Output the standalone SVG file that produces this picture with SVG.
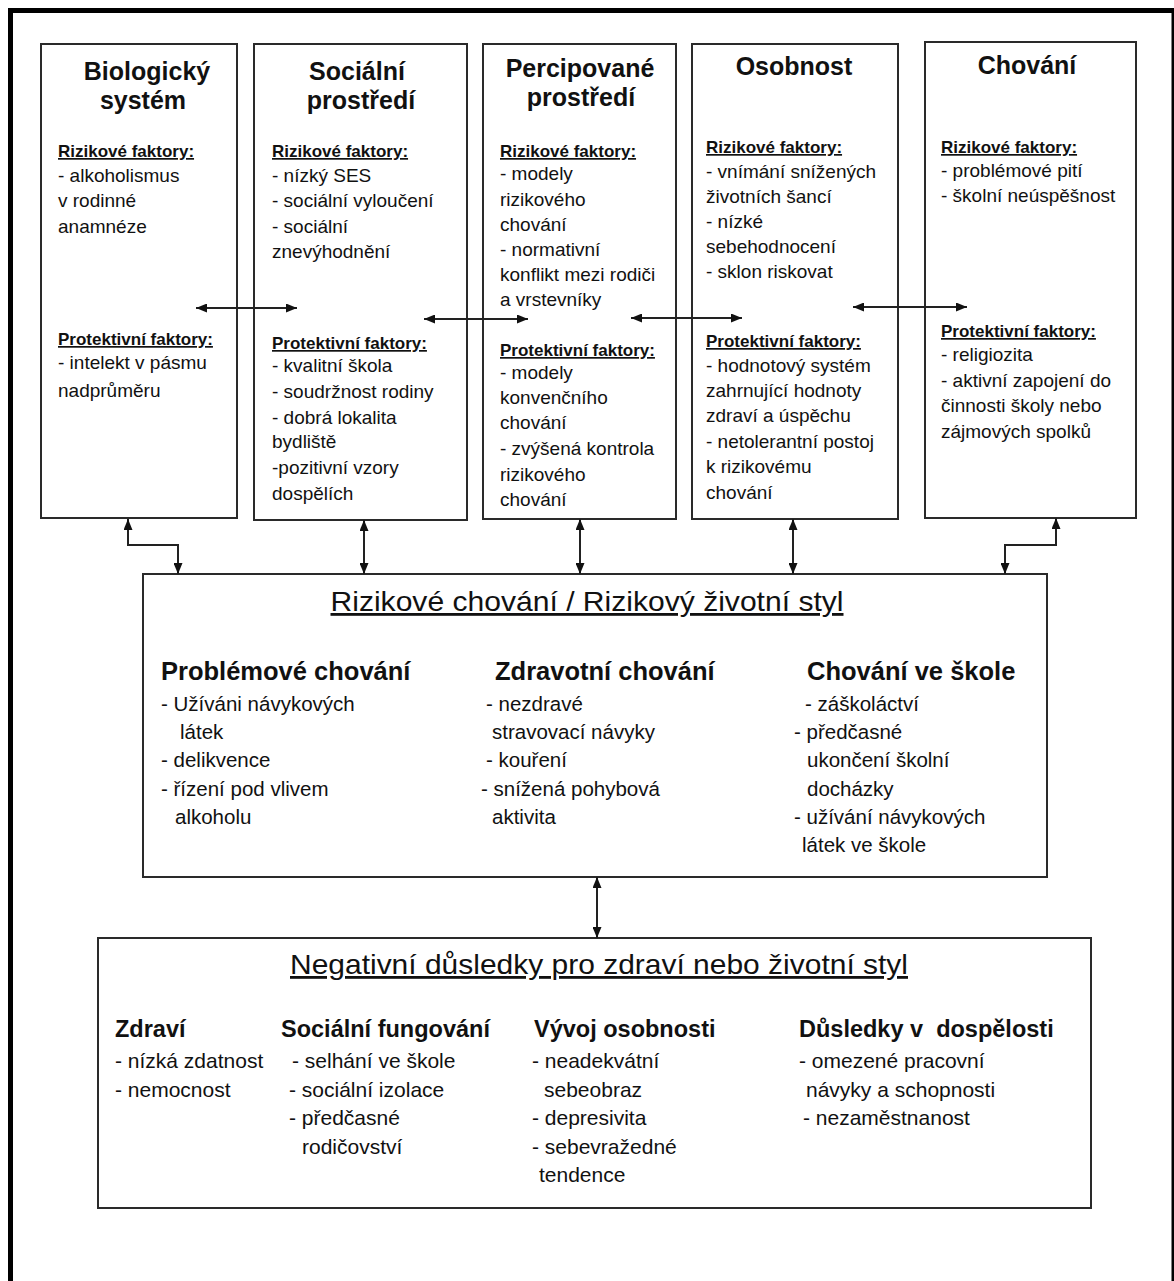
<svg xmlns="http://www.w3.org/2000/svg" width="1174" height="1281" viewBox="0 0 1174 1281">
<style>
text { font-family: "Liberation Sans", Arial, sans-serif; fill: #111; }
.box { fill: #fff; stroke: #2a2a2a; stroke-width: 2; }
.ttl { font-size: 25px; font-weight: bold; text-anchor: middle; }
.sub { font-size: 17px; font-weight: bold; text-decoration: underline; }
.it { font-size: 19px; }
.big { font-size: 28px; text-anchor: middle; text-decoration: underline; }
.mh { font-size: 25.5px; font-weight: bold; }
.mi { font-size: 20.5px; }
.bh { font-size: 23.5px; font-weight: bold; }
.bi { font-size: 21px; }
.con { fill: none; stroke: #222; stroke-width: 2; marker-start: url(#ah); marker-end: url(#ah); }
</style>
<defs>
<marker id="ah" viewBox="0 0 11 9" refX="11" refY="4.5" markerWidth="11" markerHeight="9" markerUnits="userSpaceOnUse" orient="auto-start-reverse">
<path d="M0,0 L11,4.5 L0,9 z" fill="#111"/>
</marker>
</defs>
<rect x="0" y="0" width="1174" height="1281" fill="#fff"/>
<rect x="10.5" y="10.5" width="1163.5" height="1300" fill="none" stroke="#000" stroke-width="5"/>

<g id="node-biologicky">
<rect class="box" x="41" y="44" width="196" height="474"/>
<text class="ttl" x="147" y="80">Biologický</text>
<text class="ttl" x="143" y="109">systém</text>
<text class="sub" x="58" y="157">Rizikové faktory:</text>
<text class="it" x="58" y="182">- alkoholismus</text>
<text class="it" x="58" y="207">v rodinné</text>
<text class="it" x="58" y="233">anamnéze</text>
<text class="sub" x="58" y="345">Protektivní faktory:</text>
<text class="it" x="58" y="369">- intelekt v pásmu</text>
<text class="it" x="58" y="397">nadprůměru</text>
</g>

<g id="node-socialni">
<rect class="box" x="254" y="44" width="213" height="476"/>
<text class="ttl" x="357" y="80">Sociální</text>
<text class="ttl" x="361" y="109">prostředí</text>
<text class="sub" x="272" y="157">Rizikové faktory:</text>
<text class="it" x="272" y="182">- nízký SES</text>
<text class="it" x="272" y="207">- sociální vyloučení</text>
<text class="it" x="272" y="233">- sociální</text>
<text class="it" x="272" y="258">znevýhodnění</text>
<text class="sub" x="272" y="349">Protektivní faktory:</text>
<text class="it" x="272" y="372">- kvalitní škola</text>
<text class="it" x="272" y="398">- soudržnost rodiny</text>
<text class="it" x="272" y="424">- dobrá lokalita</text>
<text class="it" x="272" y="448">bydliště</text>
<text class="it" x="272" y="474">-pozitivní vzory</text>
<text class="it" x="272" y="500">dospělích</text>
</g>

<g id="node-percipovane">
<rect class="box" x="483" y="44" width="193" height="475"/>
<text class="ttl" x="580" y="77">Percipované</text>
<text class="ttl" x="581" y="106">prostředí</text>
<text class="sub" x="500" y="157">Rizikové faktory:</text>
<text class="it" x="500" y="180">- modely</text>
<text class="it" x="500" y="206">rizikového</text>
<text class="it" x="500" y="231">chování</text>
<text class="it" x="500" y="256">- normativní</text>
<text class="it" x="500" y="281">konflikt mezi rodiči</text>
<text class="it" x="500" y="306">a vrstevníky</text>
<text class="sub" x="500" y="356">Protektivní faktory:</text>
<text class="it" x="500" y="379">- modely</text>
<text class="it" x="500" y="404">konvenčního</text>
<text class="it" x="500" y="429">chování</text>
<text class="it" x="500" y="455">- zvýšená kontrola</text>
<text class="it" x="500" y="481">rizikového</text>
<text class="it" x="500" y="506">chování</text>
</g>

<g id="node-osobnost">
<rect class="box" x="692" y="44" width="206" height="475"/>
<text class="ttl" x="794" y="75">Osobnost</text>
<text class="sub" x="706" y="153">Rizikové faktory:</text>
<text class="it" x="706" y="178">- vnímání snížených</text>
<text class="it" x="706" y="203">životních šancí</text>
<text class="it" x="706" y="228">- nízké</text>
<text class="it" x="706" y="253">sebehodnocení</text>
<text class="it" x="706" y="278">- sklon riskovat</text>
<text class="sub" x="706" y="347">Protektivní faktory:</text>
<text class="it" x="706" y="372">- hodnotový systém</text>
<text class="it" x="706" y="397">zahrnující hodnoty</text>
<text class="it" x="706" y="422">zdraví a úspěchu</text>
<text class="it" x="706" y="448">- netolerantní postoj</text>
<text class="it" x="706" y="473">k rizikovému</text>
<text class="it" x="706" y="499">chování</text>
</g>

<g id="node-chovani">
<rect class="box" x="925" y="42" width="211" height="476"/>
<text class="ttl" x="1027" y="74">Chování</text>
<text class="sub" x="941" y="153">Rizikové faktory:</text>
<text class="it" x="941" y="177">- problémové pití</text>
<text class="it" x="941" y="202">- školní neúspěšnost</text>
<text class="sub" x="941" y="337">Protektivní faktory:</text>
<text class="it" x="941" y="361">- religiozita</text>
<text class="it" x="941" y="387">- aktivní zapojení do</text>
<text class="it" x="941" y="412">činnosti školy nebo</text>
<text class="it" x="941" y="438">zájmových spolků</text>
</g>

<g id="node-rizikove-chovani">
<rect class="box" x="143" y="574" width="904" height="303"/>
<text class="big" x="587" y="611" textLength="513" lengthAdjust="spacingAndGlyphs">Rizikové chování / Rizikový životní styl</text>
<text class="mh" x="161" y="680">Problémové chování</text>
<text class="mi" x="161" y="711">- Užíváni návykových</text>
<text class="mi" x="180" y="739">látek</text>
<text class="mi" x="161" y="767">- delikvence</text>
<text class="mi" x="161" y="796">- řízení pod vlivem</text>
<text class="mi" x="175" y="824">alkoholu</text>
<text class="mh" x="495" y="680">Zdravotní chování</text>
<text class="mi" x="486" y="711">- nezdravé</text>
<text class="mi" x="492" y="739">stravovací návyky</text>
<text class="mi" x="486" y="767">- kouření</text>
<text class="mi" x="481" y="796">- snížená pohybová</text>
<text class="mi" x="492" y="824">aktivita</text>
<text class="mh" x="807" y="680">Chování ve škole</text>
<text class="mi" x="805" y="711">- záškoláctví</text>
<text class="mi" x="794" y="739">- předčasné</text>
<text class="mi" x="807" y="767">ukončení školní</text>
<text class="mi" x="807" y="796">docházky</text>
<text class="mi" x="794" y="824">- užívání návykových</text>
<text class="mi" x="802" y="852">látek ve škole</text>
</g>

<g id="node-negativni-dusledky">
<rect class="box" x="98" y="938" width="993" height="270"/>
<text class="big" x="599" y="974" textLength="618" lengthAdjust="spacingAndGlyphs">Negativní důsledky pro zdraví nebo životní styl</text>
<text class="bh" x="115" y="1037">Zdraví</text>
<text class="bi" x="115" y="1068">- nízká zdatnost</text>
<text class="bi" x="115" y="1097">- nemocnost</text>
<text class="bh" x="281" y="1037">Sociální fungování</text>
<text class="bi" x="292" y="1068">- selhání ve škole</text>
<text class="bi" x="289" y="1097">- sociální izolace</text>
<text class="bi" x="289" y="1125">- předčasné</text>
<text class="bi" x="302" y="1154">rodičovství</text>
<text class="bh" x="534" y="1037">Vývoj osobnosti</text>
<text class="bi" x="532" y="1068">- neadekvátní</text>
<text class="bi" x="544" y="1097">sebeobraz</text>
<text class="bi" x="532" y="1125">- depresivita</text>
<text class="bi" x="532" y="1154">- sebevražedné</text>
<text class="bi" x="539" y="1182">tendence</text>
<text class="bh" x="799" y="1037" xml:space="preserve">Důsledky v  dospělosti</text>
<text class="bi" x="799" y="1068">- omezené pracovní</text>
<text class="bi" x="806" y="1097">návyky a schopnosti</text>
<text class="bi" x="803" y="1125">- nezaměstnanost</text>
</g>

<g id="connectors">
<line class="con" x1="196" y1="308" x2="297" y2="308"/>
<line class="con" x1="424" y1="319" x2="528" y2="319"/>
<line class="con" x1="631" y1="318" x2="742" y2="318"/>
<line class="con" x1="853" y1="307" x2="967" y2="307"/>
<path class="con" d="M128,519 L128,545 L178,545 L178,574"/>
<line class="con" x1="364" y1="520" x2="364" y2="574"/>
<line class="con" x1="580" y1="519" x2="580" y2="574"/>
<line class="con" x1="793" y1="519" x2="793" y2="574"/>
<path class="con" d="M1056,518 L1056,545 L1005,545 L1005,574"/>
<line class="con" x1="597" y1="877" x2="597" y2="938"/>
</g>
</svg>
